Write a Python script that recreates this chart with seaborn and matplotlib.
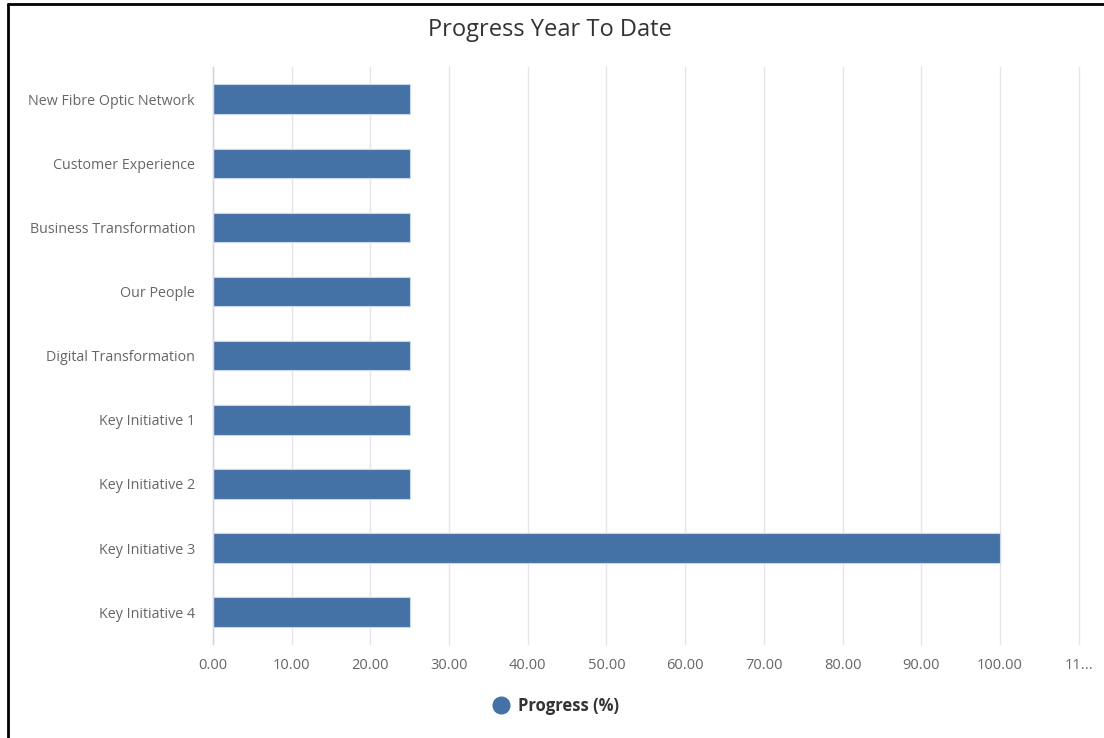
import numpy as np
import pandas as pd
import matplotlib
matplotlib.use("Agg")
import matplotlib.pyplot as plt
import seaborn as sns
from matplotlib.lines import Line2D

categories = ["New Fibre Optic Network", "Customer Experience", "Business Transformation",
              "Our People", "Digital Transformation", "Key Initiative 1",
              "Key Initiative 2", "Key Initiative 3", "Key Initiative 4"]
progress = [25, 25, 25, 25, 25, 25, 25, 100, 25]
xticks = [0, 10, 20, 30, 40, 50, 60, 70, 80, 90, 100, 110]
xticklabels = ["0.00", "10.00", "20.00", "30.00", "40.00", "50.00", "60.00",
               "70.00", "80.00", "90.00", "100.00", "11..."]

df = pd.DataFrame({"category": categories, "progress": progress})

sns.set_style("white")
plt.rcParams['font.family'] = ['Open Sans', 'DejaVu Sans']

bar_color = "#4472a6"
fig = plt.figure(figsize=(11.04, 7.38), dpi=100)
ax = fig.add_axes([0.193, 0.127, 0.784, 0.782])

sns.barplot(data=df, x="progress", y="category", orient="h", color=bar_color,
            width=0.46, edgecolor="#c9d5ea", linewidth=0.8, ax=ax, saturation=1)

ax.set_xlim(0, 110)
ax.set_ylim(len(categories) - 0.5, -0.5)
ax.set_xticks(xticks)
ax.set_xticklabels(xticklabels)
ax.grid(axis="x", color="#e6e6e6", linewidth=1)
for gl in ax.get_xgridlines():
    gl.set_clip_on(False)
ax.set_axisbelow(True)
for s in ["top", "right", "bottom"]:
    ax.spines[s].set_visible(False)
ax.spines["left"].set_color("#ccd6eb")
ax.spines["left"].set_linewidth(1)
ax.tick_params(axis="both", length=0, labelcolor="#666666")
ax.tick_params(axis="x", pad=10, labelsize=10.5)
ax.tick_params(axis="y", pad=13, labelsize=10.3)
ax.set_xlabel("")
ax.set_ylabel("")

fig.text(0.498, 0.96, "Progress Year To Date", ha="center", va="center",
         fontsize=17, color="#333333")

handle = Line2D([], [], marker="o", linestyle="none", markersize=12,
                markerfacecolor=bar_color, markeredgecolor=bar_color)
leg = fig.legend([handle], ["Progress (%)"], loc="center", bbox_to_anchor=(0.503, 0.043),
                 frameon=False, prop={"weight": "bold", "size": 12},
                 handletextpad=0.4, handlelength=1.2)
for t in leg.get_texts():
    t.set_color("#333333")

# partial frame: left and top only
fig.add_artist(Line2D([0.0075, 0.0075], [0, 0.994], transform=fig.transFigure,
                      color="black", linewidth=2))
fig.add_artist(Line2D([0.0075, 1], [0.994, 0.994], transform=fig.transFigure,
                      color="black", linewidth=2))

fig.savefig("out.png", dpi=100)
